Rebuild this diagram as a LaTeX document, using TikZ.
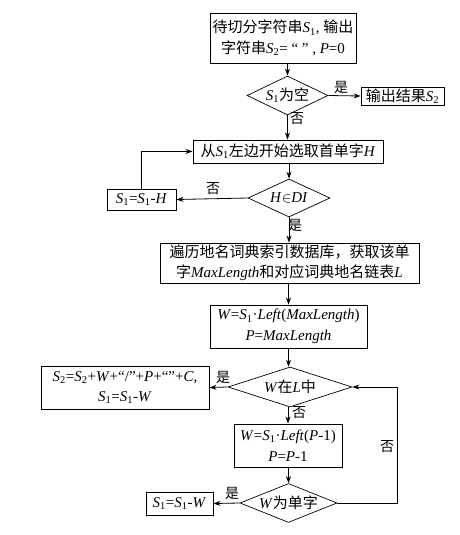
\documentclass[tikz,border=0pt]{standalone}
\usepackage{fontspec}
\setmainfont{Liberation Serif}
\newfontfamily\cjk{Noto Sans CJK SC}
\usetikzlibrary{shapes.geometric,arrows.meta}
\newcommand\zh[1]{{\cjk #1}}
\newcommand\Sx[1]{\textit{S}\textsubscript{#1}}
\newcommand\ti[1]{\textit{#1}}
\begin{document}
\begin{tikzpicture}[x=1pt,y=-1pt,
  every node/.style={font=\fontsize{15}{20.5}\selectfont},
  box/.style={draw, line width=0.9pt, inner sep=0pt, align=center},
  dia/.style={draw, diamond, inner sep=0pt, line width=0.7pt},
  arr/.style={-{Stealth[length=7pt,width=5pt]}, line width=0.8pt},
  lab/.style={inner sep=0pt, font=\fontsize{14}{15}\selectfont\cjk}]
\useasboundingbox (0,0) rectangle (460,535);
\fill[white] (0,0) rectangle (460,535);
% nodes
\node[box, minimum width=146pt, minimum height=50pt] (b1) at (283,38)
  {\zh{待切分字符串}\Sx{1}, \zh{输出}\\\zh{字符串}\Sx{2}= “ ” , \ti{P}=0};
\node[dia, minimum width=81pt, minimum height=39pt,
  label={center:\Sx{1}\zh{为空}}] (d1) at (287.5,95.5) {};
\node[box, minimum width=83pt, minimum height=18pt] (out) at (402.5,96)
  {\zh{输出结果}\Sx{2}};
\node[box, minimum width=190pt, minimum height=23pt] (b2) at (288,151.5)
  {\zh{从}\Sx{1}\zh{左边开始选取首单字}\ti{H}};
\node[dia, minimum width=82pt, minimum height=38pt,
  label={center:\ti{H}$\in$\ti{DI}}] (d2) at (289,198) {};
\node[box, minimum width=69pt, minimum height=21pt] (s1h) at (141.5,199.5)
  {\Sx{1}=\Sx{1}-\ti{H}};
\node[box, minimum width=259pt, minimum height=40pt] (b4) at (289.5,263)
  {\zh{遍历地名词典索引数据库，获取该单}\\\zh{字}\ti{MaxLength}\zh{和对应词典地名链表}\ti{L}};
\node[box, minimum width=157pt, minimum height=43pt] (b5) at (288.5,326.5)
  {\ti{W}=\Sx{1}·\ti{Left}(\ti{MaxLength})\\\ti{P}=\ti{MaxLength}};
\node[dia, minimum width=124pt, minimum height=40pt,
  label={center:\ti{W}\zh{在}\ti{L}\zh{中}}] (d3) at (290,387) {};
\node[box, minimum width=168pt, minimum height=43pt] (s2) at (125,387.5)
  {\Sx{2}=\Sx{2}+\ti{W}+“/”+\ti{P}+“”+\ti{C},\\\Sx{1}=\Sx{1}-\ti{W}};
\node[box, minimum width=108pt, minimum height=43pt] (b6) at (288,445.5)
  {\ti{W}=\Sx{1}·\ti{Left}(\ti{P}-1)\\\ti{P}=\ti{P}-1};
\node[dia, minimum width=97pt, minimum height=39pt,
  label={center:\ti{W}\zh{为单字}}] (d4) at (288.5,503) {};
\node[box, minimum width=67pt, minimum height=23pt] (s1w) at (179.5,503.5)
  {\Sx{1}=\Sx{1}-\ti{W}};
\coordinate (cr) at (397,503);
% connectors
\draw[arr] (d1.north |- b1.south) -- (d1.north);
\draw[arr] (d1.east) -- (out.west);
\draw[arr] (d1.south) -- (d1.south |- b2.north);
\draw[arr] (d2.north |- b2.south) -- (d2.north);
\draw[arr] (d2.west) -- (s1h.east);
\draw[arr] (s1h.north) |- (b2.west);
\draw[arr] (d2.south) -- (d2.south |- b4.north);
\draw[arr] (b5.north |- b4.south) -- (b5.north);
\draw[arr] (b5.south) -- (b5.south |- d3.north);
\draw[arr] (d3.west) -- (s2.east);
\draw[arr] (b6.north |- d3.south) -- (b6.north);
\draw[arr] (d4.north |- b6.south) -- (d4.north);
\draw[arr] (d4.west) -- (s1w.east);
\draw[arr] (d4.east) -- (cr) |- (d3.east);
% labels
\node[lab] (l1) at (341,87) {是};
\node[lab] (l2) at (297,119) {否};
\node[lab] (l3) at (213,189) {否};
\node[lab] (l4) at (295,225) {是};
\node[lab] (l5) at (223,377) {是};
\node[lab] (l6) at (299,413) {否};
\node[lab] (l7) at (232,493) {是};
\node[lab] (l8) at (387,447) {否};
\end{tikzpicture}
\end{document}
